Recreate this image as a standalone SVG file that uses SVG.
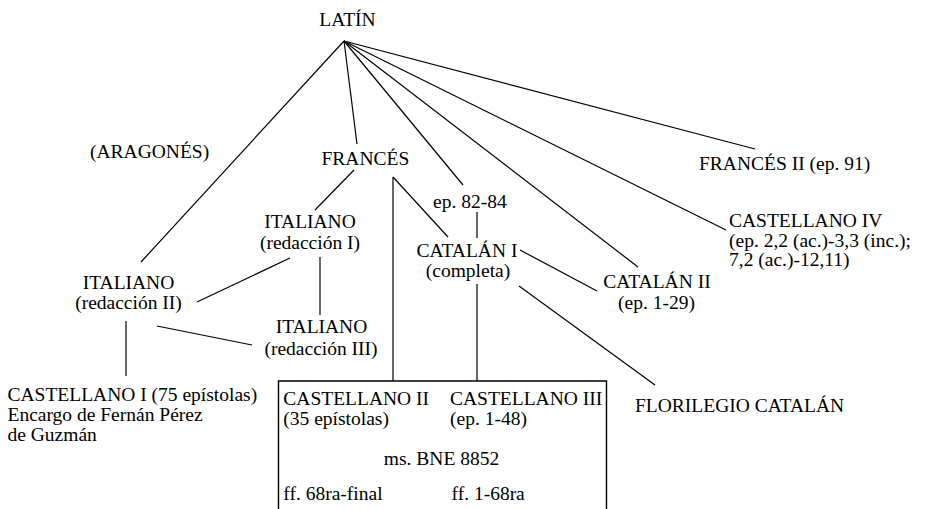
<svg xmlns="http://www.w3.org/2000/svg" width="926" height="509" viewBox="0 0 926 509">
<style>
text{font-family:"Liberation Serif","Times New Roman",serif;font-size:19.5px;fill:#000}
.c{text-anchor:middle}
.ln line{stroke:#000;stroke-width:1.2;fill:none}
.box{stroke:#000;stroke-width:1.4;fill:none}
</style>
<rect width="926" height="509" fill="#fff"/>
<g id="connectors" class="ln">
<line x1="344" y1="41" x2="141" y2="262"/>
<line x1="344" y1="41" x2="357" y2="144"/>
<line x1="344" y1="41" x2="463" y2="185"/>
<line x1="344" y1="41" x2="638" y2="267"/>
<line x1="344" y1="41" x2="726" y2="230"/>
<line x1="344" y1="41" x2="755" y2="149"/>
<line x1="354" y1="170" x2="315" y2="210"/>
<line x1="393" y1="177" x2="393" y2="381"/>
<line x1="393" y1="177" x2="448" y2="237"/>
<line x1="477" y1="212" x2="477" y2="238"/>
<line x1="520" y1="250" x2="597" y2="291"/>
<line x1="477" y1="284" x2="477" y2="381"/>
<line x1="519" y1="286" x2="655" y2="385"/>
<line x1="197" y1="302" x2="290" y2="258"/>
<line x1="320" y1="257" x2="320" y2="315"/>
<line x1="157" y1="326" x2="252" y2="345"/>
<line x1="126" y1="321" x2="126" y2="376"/>
</g>
<g id="latin"><text class="c" x="347.5" y="26">LATÍN</text></g>
<g id="aragones"><text x="90" y="158">(ARAGONÉS)</text></g>
<g id="frances"><text x="321.5" y="165">FRANCÉS</text></g>
<g id="frances2"><text x="699" y="170">FRANCÉS II (ep. 91)</text></g>
<g id="castellano4"><text x="729" y="227">CASTELLANO IV</text><text x="729" y="246.5">(ep. 2,2 (ac.)-3,3 (inc.);</text><text x="729" y="266">7,2 (ac.)-12,11)</text></g>
<g id="ep8284"><text x="433" y="207.5">ep. 82-84</text></g>
<g id="italiano1"><text class="c" x="310" y="228">ITALIANO</text><text class="c" x="310" y="248.5">(redacción I)</text></g>
<g id="catalan1"><text class="c" x="467" y="257">CATALÁN I</text><text class="c" x="468" y="277">(completa)</text></g>
<g id="catalan2"><text class="c" x="657" y="288">CATALÁN II</text><text class="c" x="656.5" y="308.5">(ep. 1-29)</text></g>
<g id="italiano2"><text class="c" x="128.5" y="288.5">ITALIANO</text><text class="c" x="128.5" y="309">(redacción II)</text></g>
<g id="italiano3"><text class="c" x="321.5" y="333">ITALIANO</text><text class="c" x="321" y="355">(redacción III)</text></g>
<g id="castellano1"><text x="7.5" y="401">CASTELLANO I (75 epístolas)</text><text x="7.5" y="421">Encargo de Fernán Pérez</text><text x="7.5" y="441">de Guzmán</text></g>
<g id="florilegio"><text x="635" y="411.5">FLORILEGIO CATALÁN</text></g>
<g id="ms8852">
<path class="box" d="M278.5,512 V381 H606.5 V512"/>
<text x="283.3" y="405">CASTELLANO II</text>
<text x="283.3" y="425">(35 epístolas)</text>
<text x="450" y="405">CASTELLANO III</text>
<text x="450" y="425">(ep. 1-48)</text>
<text class="c" x="441.5" y="465">ms. BNE 8852</text>
<text x="283.3" y="500">ff. 68ra-final</text>
<text x="451.5" y="500">ff. 1-68ra</text>
</g>
</svg>
